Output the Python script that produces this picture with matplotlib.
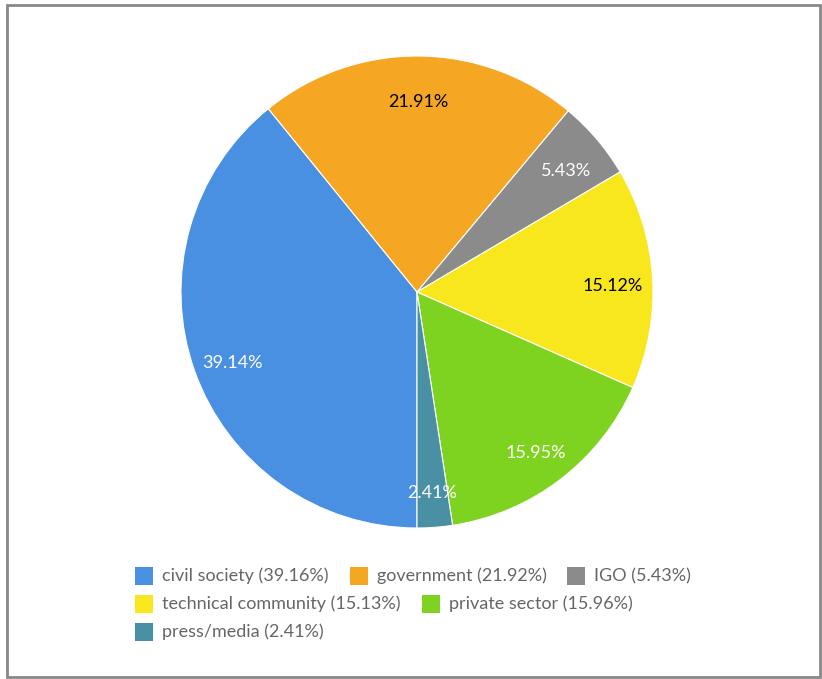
import numpy as np
import matplotlib
matplotlib.use('Agg')
import matplotlib.pyplot as plt
from matplotlib.patches import Rectangle

# Share of participants by stakeholder group
groups = ['civil society', 'government', 'IGO', 'technical community', 'private sector', 'press/media']
slice_pct = [39.14, 21.91, 5.43, 15.12, 15.95, 2.41]
legend_pct = [39.16, 21.92, 5.43, 15.13, 15.96, 2.41]
colors = ['#4A90E2', '#F5A623', '#8B8B8B', '#F8E71C', '#7ED321', '#4A90A4']
label_colors = ['white', 'black', 'white', 'black', 'white', 'white']

plt.rcParams['font.family'] = ['Lato', 'DejaVu Sans']

W, H = 822, 679
fig = plt.figure(figsize=(W / 100, H / 100), dpi=100)

# Pie centred at (417, 292) px with radius 236 px
cx, cy, r = 417, 292, 236
ax = fig.add_axes([(cx - r) / W, (H - cy - r) / H, 2 * r / W, 2 * r / H])
wedges, _ = ax.pie(slice_pct, colors=colors, startangle=-90, counterclock=False,
                   wedgeprops=dict(edgecolor='white', linewidth=0.8))
ax.set_xlim(-1, 1)
ax.set_ylim(-1, 1)
ax.set_aspect('equal')
ax.axis('off')

# value labels inside each slice, nudged a few px down
for w, val, tc in zip(wedges, slice_pct, label_colors):
    mid = np.deg2rad((w.theta1 + w.theta2) / 2)
    ax.annotate(f'{val:.2f}%', (0.83 * np.cos(mid), 0.83 * np.sin(mid)),
                xytext=(0, -4), textcoords='offset points',
                ha='center', va='center', fontsize=13, color=tc)

# Flowing legend below the pie
renderer = fig.canvas.get_renderer()
box = 18
pad = 9
gap = 21
max_width = 620
row_h = 28
items = []
for name, pct, col in zip(groups, legend_pct, colors):
    t = fig.text(0, 0, f'{name} ({pct:.2f}%)', fontsize=13, color='#666666',
                 ha='left', va='center')
    wpx = t.get_window_extent(renderer).width
    items.append((t, col, box + pad + wpx))

rows = [[]]
cur = 0
for it in items:
    add = it[2] if not rows[-1] else gap + it[2]
    if rows[-1] and cur + add > max_width:
        rows.append([])
        cur = 0
        add = it[2]
    rows[-1].append(it)
    cur += add

x0 = 135
y0 = 576
for i, row in enumerate(rows):
    y = y0 + i * row_h
    x = x0
    for t, col, wd in row:
        fig.patches.append(Rectangle((x / W, (H - y - box / 2) / H), box / W, box / H,
                                     transform=fig.transFigure, facecolor=col,
                                     edgecolor='none'))
        t.set_position(((x + box + pad) / W, (H - y) / H))
        x += wd + gap

# Grey frame around the figure
fig.patches.append(Rectangle((7 / W, 2 / H), 813 / W, 672 / H, transform=fig.transFigure,
                             facecolor='none', edgecolor='#888888', linewidth=2))

fig.savefig('out.png', dpi=100)
